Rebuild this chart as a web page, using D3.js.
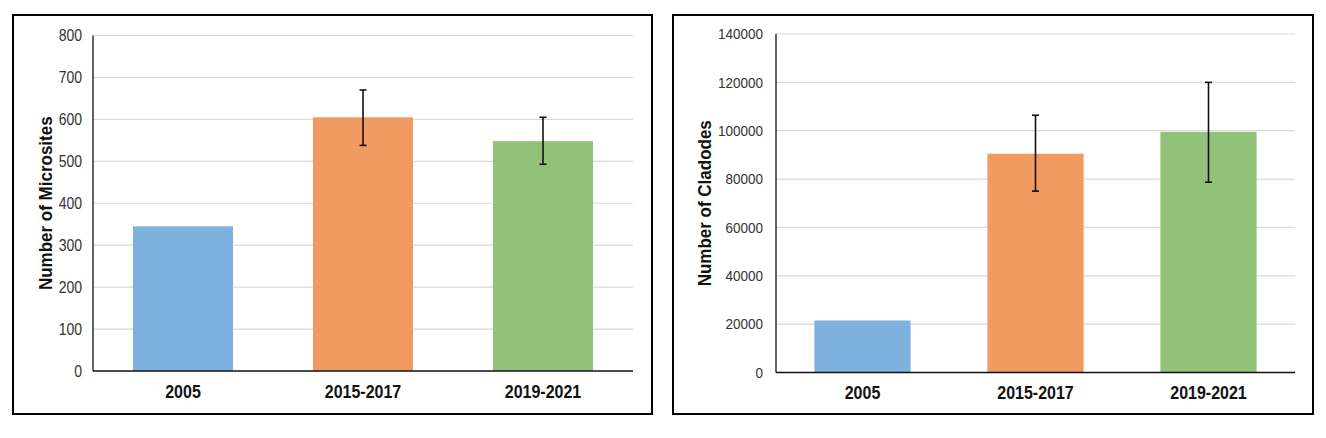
<!DOCTYPE html>
<html>
<head>
<meta charset="utf-8">
<script src="https://cdn.jsdelivr.net/npm/d3@7"></script>
<style>
html,body{margin:0;padding:0;background:#fff;}
svg{display:block;}
</style>
</head>
<body>
<svg id="chart" width="1326" height="438"></svg>
<script>
// ---- data ----
const categories = ["2005", "2015-2017", "2019-2021"];
const colors = ["#7fb1df", "#f19b63", "#92c27a"];

const micrositesValues = [345, 605, 548];
const micrositesErrLow = [null, 538, 493];
const micrositesErrHigh = [null, 670, 605];
const micrositesTicks = [0, 100, 200, 300, 400, 500, 600, 700, 800];

const cladodesValues = [21500, 90500, 99500];
const cladodesErrLow = [null, 75000, 78700];
const cladodesErrHigh = [null, 106400, 120000];
const cladodesTicks = [0, 20000, 40000, 60000, 80000, 100000, 120000, 140000];

const svg = d3.select("#chart");

function panel(cfg) {
  const g = svg.append("g");
  // frame
  g.append("rect")
    .attr("x", cfg.frame[0]).attr("y", cfg.frame[1])
    .attr("width", cfg.frame[2]).attr("height", cfg.frame[3])
    .attr("fill", "none").attr("stroke", "#000").attr("stroke-width", 2);

  const x = d3.scaleBand().domain(categories)
    .range([cfg.left, cfg.right]).paddingInner(cfg.pad).paddingOuter(cfg.pad / 2);
  const y = d3.scaleLinear().domain([0, cfg.max]).range([cfg.bottom, cfg.top]);

  // gridlines
  g.append("g")
    .selectAll("line").data(cfg.ticks.filter(t => t > 0)).join("line")
    .attr("x1", cfg.left).attr("x2", cfg.right)
    .attr("y1", d => y(d)).attr("y2", d => y(d))
    .attr("stroke", "#d9d9d9").attr("stroke-width", 1.2);

  // y tick labels via axis
  const ax = g.append("g")
    .attr("transform", `translate(${cfg.left},0)`)
    .call(d3.axisLeft(y).tickValues(cfg.ticks).tickFormat(d3.format("d")).tickSize(0).tickPadding(cfg.tickPad));
  ax.select(".domain").remove();
  ax.selectAll("text")
    .attr("font-family", "Liberation Sans, Arial, sans-serif")
    .attr("font-size", cfg.tickFont).attr("fill", "#333")
    .attr("transform", "scale(1,1.12)");

  // bars
  g.append("g").selectAll("rect").data(cfg.values).join("rect")
    .attr("x", (d, i) => x(categories[i]))
    .attr("y", d => y(d))
    .attr("width", x.bandwidth())
    .attr("height", d => y(0) - y(d))
    .attr("fill", (d, i) => colors[i]);

  // error bars
  const eg = g.append("g");
  cfg.values.forEach((v, i) => {
    if (cfg.errLow[i] == null) return;
    const cx = x(categories[i]) + x.bandwidth() / 2;
    const y1 = y(cfg.errLow[i]), y2 = y(cfg.errHigh[i]);
    eg.append("line").attr("x1", cx).attr("x2", cx).attr("y1", y1).attr("y2", y2)
      .attr("stroke", "#111").attr("stroke-width", 1.6);
    [y1, y2].forEach(yy => eg.append("line").attr("x1", cx - 3.5).attr("x2", cx + 3.5)
      .attr("y1", yy).attr("y2", yy).attr("stroke", "#111").attr("stroke-width", 1.6));
  });

  // axes lines
  g.append("line").attr("x1", cfg.left).attr("x2", cfg.left)
    .attr("y1", cfg.top).attr("y2", cfg.bottom)
    .attr("stroke", "#111").attr("stroke-width", 1.3);
  g.append("line").attr("x1", cfg.left).attr("x2", cfg.right)
    .attr("y1", cfg.bottom).attr("y2", cfg.bottom)
    .attr("stroke", "#111").attr("stroke-width", 1.6);

  // x labels
  g.append("g").selectAll("text").data(categories).join("text")
    .attr("transform", d => `translate(${x(d) + x.bandwidth() / 2},${cfg.labelY}) scale(1,1.14)`)
    .attr("text-anchor", "middle")
    .attr("font-family", "Liberation Sans, Arial, sans-serif")
    .attr("font-weight", "bold").attr("font-size", 16).attr("fill", "#111")
    .text(d => d);

  // y title
  g.append("text")
    .attr("transform", `translate(${cfg.titleX},${(cfg.top + cfg.bottom) / 2}) rotate(-90) scale(1,1.1)`)
    .attr("text-anchor", "middle").attr("dy", "0.35em")
    .attr("font-family", "Liberation Sans, Arial, sans-serif")
    .attr("font-weight", "bold").attr("font-size", 17).attr("fill", "#111")
    .text(cfg.title);
}

panel({
  frame: [13, 15, 639, 399],
  left: 93, right: 633, top: 35.5, bottom: 371,
  pad: 0.444, max: 800, ticks: micrositesTicks,
  values: micrositesValues, errLow: micrositesErrLow, errHigh: micrositesErrHigh,
  tickFont: 14, tickPad: 11, labelY: 398, titleX: 45,
  title: "Number of Microsites"
});

panel({
  frame: [673, 15, 640, 399],
  left: 776, right: 1295, top: 34, bottom: 372.5,
  pad: 0.444, max: 140000, ticks: cladodesTicks,
  values: cladodesValues, errLow: cladodesErrLow, errHigh: cladodesErrHigh,
  tickFont: 13.5, tickPad: 13, labelY: 399, titleX: 704,
  title: "Number of Cladodes"
});
</script>
</body>
</html>
